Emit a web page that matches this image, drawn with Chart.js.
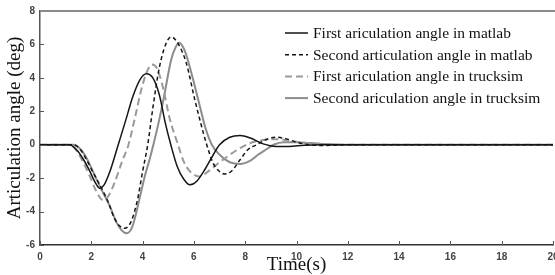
<!DOCTYPE html>
<html>
<head>
<meta charset="utf-8">
<script src="https://cdn.jsdelivr.net/npm/chart.js@4.4.0/dist/chart.umd.min.js"></script>
<style>
  html, body { margin: 0; padding: 0; background: #fff; }
  #wrap { width: 555px; height: 275px; }
</style>
</head>
<body>
<div id="wrap"><canvas id="chart" width="555" height="275"></canvas></div>
<script>
// time axis ticks / value axis ticks
const timeTicks = [0, 2, 4, 6, 8, 10, 12, 14, 16, 18, 20];
const angleTicks = [-6, -4, -2, 0, 2, 4, 6, 8];

const seriesLabels = [
  "First ariculation angle in matlab",
  "Second articulation angle in matlab",
  "First ariculation angle in trucksim",
  "Second ariculation angle in trucksim"
];

// first articulation angle, matlab (s, deg)
const tFirstMatlab = [0, 1.15, 1.45, 1.7, 1.93, 2.15, 2.32, 2.5, 2.75, 3.05, 3.35, 3.6, 3.9, 4.15, 4.4, 4.65, 4.9, 5.1, 5.35, 5.6, 5.85, 6.1, 6.4, 6.7, 7.0, 7.4, 7.8, 8.2, 8.7, 9.2, 9.7, 10.3, 11, 20];
const firstMatlab = [0, 0, -0.35, -0.9, -1.55, -2.25, -2.6, -2.4, -1.5, 0, 1.5, 2.8, 3.9, 4.25, 4.0, 3.0, 1.2, 0, -1.3, -2.05, -2.4, -2.2, -1.55, -0.75, 0, 0.45, 0.55, 0.4, 0.05, -0.1, -0.1, -0.03, 0, 0];

// second articulation angle, matlab
const tSecondMatlab = [0, 1.3, 1.6, 1.85, 2.05, 2.4, 2.65, 2.9, 3.1, 3.3, 3.55, 3.8, 4.0, 4.2, 4.4, 4.65, 4.9, 5.12, 5.4, 5.7, 6.05, 6.5, 6.75, 7.0, 7.2, 7.45, 7.8, 8.1, 8.45, 8.8, 9.2, 9.6, 10.0, 10.5, 11, 12, 20];
const secondMatlab = [0, 0, -0.35, -1.0, -1.6, -2.6, -3.4, -4.4, -4.85, -5.0, -4.6, -3.3, -1.6, 0, 2.2, 4.6, 6.0, 6.45, 6.0, 4.9, 2.6, 0, -1.1, -1.6, -1.75, -1.6, -0.9, -0.3, 0, 0.3, 0.45, 0.35, 0.15, 0, -0.05, 0, 0];

// first articulation angle, trucksim
const tFirstTrucksim = [0, 1.15, 1.45, 1.7, 1.93, 2.2, 2.45, 2.65, 2.9, 3.2, 3.45, 3.7, 3.95, 4.15, 4.35, 4.55, 4.8, 5.05, 5.38, 5.6, 5.85, 6.2, 6.6, 7.0, 7.4, 7.8, 8.2, 8.7, 9.3, 9.9, 10.5, 11.5, 20];
const firstTrucksim = [0, 0, -0.4, -1.1, -1.85, -2.8, -3.3, -3.1, -2.3, -1.0, 0, 1.6, 3.3, 4.3, 4.8, 4.6, 3.4, 1.6, 0, -1.0, -1.6, -1.9, -1.55, -1.05, -0.6, -0.2, 0.1, 0.28, 0.33, 0.2, 0.08, 0, 0];

// second articulation angle, trucksim
const tSecondTrucksim = [0, 1.3, 1.6, 1.85, 2.05, 2.4, 2.7, 3.0, 3.2, 3.38, 3.6, 3.87, 4.1, 4.25, 4.42, 4.65, 4.85, 5.1, 5.25, 5.42, 5.65, 5.9, 6.2, 6.45, 6.7, 7.0, 7.4, 7.8, 8.2, 8.5, 8.8, 9.1, 9.5, 10.0, 10.5, 11, 12, 20];
const secondTrucksim = [0, 0, -0.3, -0.9, -1.55, -2.7, -3.6, -4.7, -5.15, -5.3, -4.9, -3.3, -1.8, -1.0, 0, 1.5, 3.0, 5.0, 5.7, 6.1, 5.6, 4.3, 2.5, 1.0, 0, -0.6, -1.05, -1.15, -0.95, -0.6, -0.3, 0, 0.15, 0.15, 0.1, 0.05, 0, 0];

const pts = (ts, ys) => ts.map((t, i) => ({ x: t, y: ys[i] }));

const serif = "'Liberation Serif', 'Times New Roman', serif";
const sans = "'Liberation Sans', Arial, sans-serif";

// inward tick marks, top frame line
const frame = {
  id: "frame",
  afterDraw(chart) {
    const ctx = chart.ctx;
    const area = chart.chartArea;
    const xs = chart.scales.x;
    const ys = chart.scales.y;
    ctx.save();
    ctx.strokeStyle = "#555";
    ctx.lineWidth = 1;
    xs.ticks.forEach((tk) => {
      const px = Math.round(xs.getPixelForValue(tk.value)) + 0.5;
      ctx.beginPath();
      ctx.moveTo(px, area.bottom);
      ctx.lineTo(px, area.bottom - 4);
      ctx.stroke();
    });
    ys.ticks.forEach((tk) => {
      const py = Math.round(ys.getPixelForValue(tk.value)) + 0.5;
      ctx.beginPath();
      ctx.moveTo(area.left, py);
      ctx.lineTo(area.left + 4, py);
      ctx.stroke();
    });
    ctx.strokeStyle = "#8a8a8a";
    ctx.lineWidth = 2;
    ctx.beginPath();
    ctx.moveTo(area.left, area.top);
    ctx.lineTo(chart.width, area.top);
    ctx.stroke();
    ctx.restore();
  }
};

// legend drawn inside the plot, from the datasets
const innerLegend = {
  id: "innerLegend",
  afterDraw(chart) {
    const ctx = chart.ctx;
    const x0 = 285, y0 = 33, rowH = 21.7, len = 23;
    ctx.save();
    ctx.font = "15.5px " + serif;
    ctx.textBaseline = "middle";
    ctx.textAlign = "left";
    chart.data.datasets.forEach((ds, i) => {
      const y = y0 + i * rowH;
      ctx.strokeStyle = ds.borderColor;
      ctx.lineWidth = ds.borderWidth;
      ctx.setLineDash(ds.borderDash || []);
      ctx.beginPath();
      ctx.moveTo(x0, y);
      ctx.lineTo(x0 + len, y);
      ctx.stroke();
      ctx.setLineDash([]);
      ctx.fillStyle = "#111";
      ctx.fillText(ds.label, x0 + len + 5, y + 1);
    });
    ctx.restore();
  }
};

const lineDefaults = {
  pointRadius: 0,
  fill: false,
  cubicInterpolationMode: "monotone"
};

new Chart(document.getElementById("chart"), {
  type: "line",
  data: {
    datasets: [
      { ...lineDefaults, label: seriesLabels[0], data: pts(tFirstMatlab, firstMatlab), borderColor: "#151515", borderWidth: 1.5 },
      { ...lineDefaults, label: seriesLabels[1], data: pts(tSecondMatlab, secondMatlab), borderColor: "#151515", borderWidth: 1.5, borderDash: [4, 3] },
      { ...lineDefaults, label: seriesLabels[2], data: pts(tFirstTrucksim, firstTrucksim), borderColor: "#9a9a9a", borderWidth: 2, borderDash: [7, 4] },
      { ...lineDefaults, label: seriesLabels[3], data: pts(tSecondTrucksim, secondTrucksim), borderColor: "#8c8c8c", borderWidth: 2 }
    ]
  },
  options: {
    responsive: false,
    animation: false,
    layout: { padding: { top: 11, right: 2, left: 0, bottom: 0 } },
    plugins: {
      legend: { display: false },
      tooltip: { enabled: false }
    },
    scales: {
      x: {
        type: "linear",
        min: 0,
        max: 20,
        afterBuildTicks: (s) => { s.ticks = timeTicks.map((v) => ({ value: v })); },
        afterFit: (s) => { s.height = 30; s.paddingLeft = 0; s.paddingRight = 0; },
        grid: { display: false, drawTicks: false },
        border: { display: true, color: "#333", width: 1.5 },
        ticks: {
          color: "#444",
          padding: 6,
          maxRotation: 0,
          font: { family: sans, size: 10, weight: "bold" }
        },
        title: {
          display: true,
          text: "Time(s)",
          color: "#111",
          padding: 0,
          font: { family: serif, size: 19, lineHeight: 1 }
        }
      },
      y: {
        min: -6,
        max: 8,
        afterBuildTicks: (s) => { s.ticks = angleTicks.map((v) => ({ value: v })); },
        afterFit: (s) => { s.width = 40; },
        grid: { display: false, drawTicks: false },
        border: { display: true, color: "#555", width: 1.5 },
        ticks: {
          color: "#444",
          padding: 5,
          font: { family: sans, size: 10, weight: "bold" }
        },
        title: {
          display: true,
          text: "Articulation angle (deg)",
          color: "#111",
          padding: { top: 6, bottom: 0 },
          font: { family: serif, size: 19, lineHeight: 1 }
        }
      }
    }
  },
  plugins: [frame, innerLegend]
});
</script>
</body>
</html>
